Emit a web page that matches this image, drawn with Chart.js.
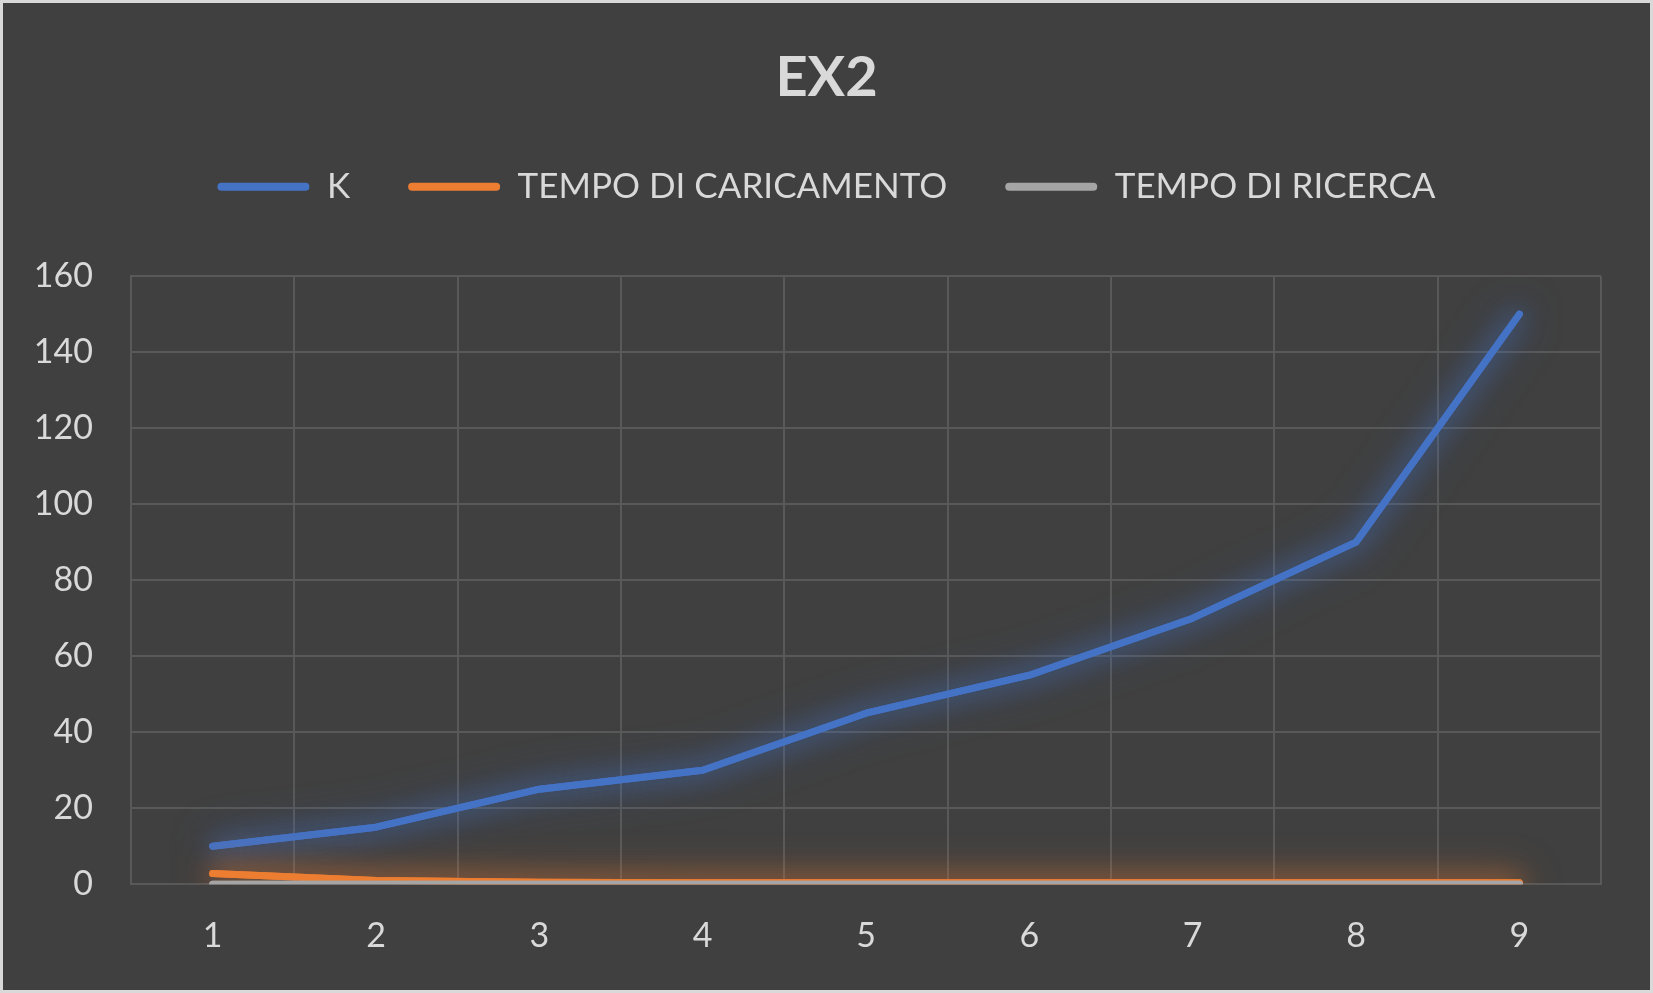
<!DOCTYPE html>
<html>
<head>
<meta charset="utf-8">
<script src="https://cdn.jsdelivr.net/npm/chart.js@4/dist/chart.umd.min.js"></script>
<style>
  html, body { margin: 0; padding: 0; background: #d9d9d9; }
  #wrap { position: absolute; left: 3px; top: 3px; width: 1647px; height: 987px; background: #404040; }
</style>
</head>
<body>
<div id="wrap"><canvas id="ex2Chart"></canvas></div>
<script>
// Chart data
const categories = ['1', '2', '3', '4', '5', '6', '7', '8', '9'];
const kValues = [10, 15, 25, 30, 45, 55, 70, 90, 150];
const caricamentoValues = [2.8, 1, 0.5, 0.4, 0.4, 0.4, 0.4, 0.4, 0.4];
const ricercaValues = [0, 0, 0, 0, 0, 0, 0, 0, 0];
const seriesNames = ['K', 'TEMPO DI CARICAMENTO', 'TEMPO DI RICERCA'];
const yTicks = [0, 20, 40, 60, 80, 100, 120, 140, 160];

const textColor = '#d9d9d9';
const gridColor = '#595959';

// Excel style "glow" round each line: one extra blurred pass under the line
const glowPlugin = {
  id: 'glow',
  beforeDatasetDraw(chart, args) {
    const ds = chart.data.datasets[args.index];
    const ctx = chart.ctx;
    const area = chart.chartArea;
    ctx.save();
    ctx.beginPath();
    ctx.rect(area.left, area.top, area.right - area.left, area.bottom - area.top);
    ctx.clip();
    ctx.shadowColor = ds.glowColor;
    ctx.shadowBlur = 40;
    args.meta.dataset.draw(ctx, area);
    ctx.restore();
    ctx.save();
    ctx.shadowColor = ds.glowColor;
    ctx.shadowBlur = 24;
  },
  afterDatasetDraw(chart) {
    chart.ctx.restore();
  }
};

const canvas = document.getElementById('ex2Chart');
canvas.width = 1647;
canvas.height = 987;

new Chart(canvas.getContext('2d'), {
  type: 'line',
  data: {
    labels: categories,
    datasets: [
      {
        label: seriesNames[0],
        data: kValues,
        borderColor: '#4472c4',
        backgroundColor: '#4472c4',
        glowColor: 'rgba(68,114,196,0.8)',
        order: 3
      },
      {
        label: seriesNames[1],
        data: caricamentoValues,
        borderColor: '#ed7d31',
        backgroundColor: '#ed7d31',
        glowColor: 'rgba(237,125,49,0.8)',
        order: 2
      },
      {
        label: seriesNames[2],
        data: ricercaValues,
        borderColor: '#a5a5a5',
        backgroundColor: '#a5a5a5',
        glowColor: 'rgba(165,165,165,0)',
        order: 1
      }
    ]
  },
  options: {
    responsive: false,
    animation: false,
    devicePixelRatio: 1,
    datasets: {
      line: {
        borderWidth: 7,
        borderCapStyle: 'round',
        borderJoinStyle: 'round',
        pointRadius: 0,
        tension: 0,
        clip: 0
      }
    },
    layout: {
      padding: { left: 0, right: 0, top: 0, bottom: 3 }
    },
    scales: {
      x: {
        offset: true,
        grid: { color: gridColor, lineWidth: 2, offset: true, drawTicks: false },
        border: { color: gridColor, width: 2 },
        ticks: {
          color: textColor,
          padding: 31,
          font: { family: 'Lato', size: 34 }
        }
      },
      y: {
        min: 0,
        max: 160,
        afterBuildTicks(scale) {
          scale.ticks = yTicks.map(v => ({ value: v }));
        },
        afterFit(scale) {
          scale.width = 128;
        },
        grid: { color: gridColor, lineWidth: 2, drawTicks: false },
        border: { color: gridColor, width: 2 },
        ticks: {
          color: textColor,
          padding: 38,
          font: { family: 'Lato', size: 34 }
        }
      },
      // empty axis on the right, only keeps the margin
      yRight: {
        position: 'right',
        min: 0,
        max: 160,
        afterFit(scale) {
          scale.width = 49;
        },
        grid: { display: false },
        border: { display: false },
        ticks: { display: false }
      }
    },
    plugins: {
      title: {
        display: true,
        text: 'EX2',
        color: textColor,
        font: { family: 'Lato', size: 56, weight: 'bold' },
        padding: { top: 41, bottom: 0 }
      },
      legend: {
        display: true,
        weight: 1800,
        labels: {
          color: textColor,
          boxWidth: 92,
          boxHeight: 8,
          useBorderRadius: true,
          borderRadius: 4,
          padding: 58,
          sort: (a, b) => a.datasetIndex - b.datasetIndex,
          generateLabels(chart) {
            const items = Chart.defaults.plugins.legend.labels.generateLabels(chart);
            items.forEach(item => { item.lineWidth = 0; });
            return items;
          },
          font: { family: 'Lato', size: 35 }
        }
      },
      // empty subtitle used as space between legend and plot
      subtitle: {
        display: true,
        text: ' ',
        font: { size: 10 },
        padding: { top: 0, bottom: 50 }
      },
      tooltip: { enabled: false }
    }
  },
  plugins: [glowPlugin]
});
</script>
</body>
</html>
